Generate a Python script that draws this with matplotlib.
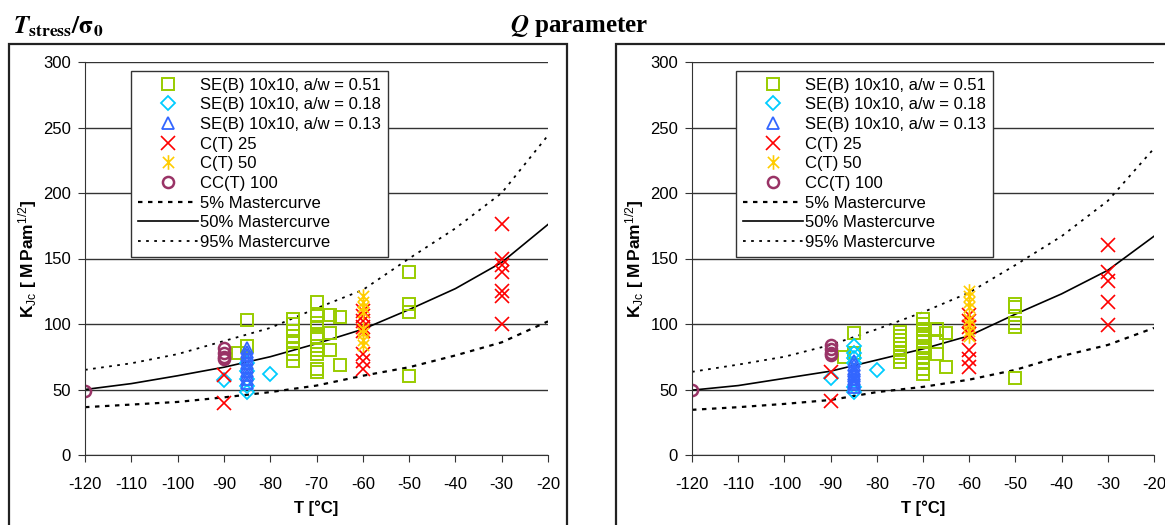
import numpy as np
import matplotlib
matplotlib.use('Agg')
import matplotlib.pyplot as plt
from matplotlib.path import Path
from matplotlib.patches import Rectangle

plt.rcParams['font.family'] = ['Liberation Sans', 'DejaVu Sans']
plt.rcParams['axes.unicode_minus'] = False
plt.rcParams['mathtext.fontset'] = 'custom'
plt.rcParams['mathtext.rm'] = 'Liberation Sans'
plt.rcParams['mathtext.bf'] = 'Liberation Sans:bold'
plt.rcParams['mathtext.it'] = 'Liberation Sans:italic'

# ---- mastercurves (every 10 C) ----
t_mc = [-120, -110, -100, -90, -80, -70, -60, -50, -40, -30, -20]

ts_mc05 = [36.5, 38.5, 40.5, 44, 48, 53, 60.5, 67, 76, 86, 102]
ts_mc50 = [50, 54.5, 60.5, 67, 75, 85, 96, 111, 127, 147, 176]
ts_mc95 = [65, 70, 77, 87, 97, 112, 126, 150, 173, 200, 244]

q_mc05 = [34.5, 36.5, 39, 42, 48, 52, 57.5, 65, 75.5, 84, 97]
q_mc50 = [49.5, 53, 58.5, 64, 72.5, 81, 91, 107.5, 123, 141, 167]
q_mc95 = [63.5, 69, 75, 84, 96, 109, 124, 145, 167, 194, 234]

# ---- T_stress/sigma0 panel ----
ts_seb51_t = [-87, -85, -85] + [-75] * 8 + [-70] * 11 + [-67] * 3 + [-65] * 2 + [-50] * 4
ts_seb51_k = [78, 103, 83,
              104, 100, 95, 91, 87, 81, 77, 72,
              117, 106, 101, 98, 92, 90, 83, 80, 77, 66, 63,
              107, 93, 80,
              105, 69,
              140, 115, 109, 60]
ts_seb18_t = [-90, -85, -85, -85, -85, -85, -80]
ts_seb18_k = [57, 48, 53, 58, 64, 70, 62]
ts_seb13_t = [-85] * 10
ts_seb13_k = [82, 79, 76, 73, 70, 67, 64, 61, 58, 55]
ts_ct25_t = [-90, -90] + [-60] * 8 + [-30] * 7
ts_ct25_k = [61, 40,
             110, 106, 102, 98, 95, 77, 72, 66,
             176, 150, 145, 140, 125, 121, 100]
ts_ct50_t = [-60] * 8
ts_ct50_k = [121, 117, 113, 109, 96, 93, 88, 84]
ts_cct100_t = [-120, -90, -90, -90, -90]
ts_cct100_k = [49, 82, 78, 75, 73]

# ---- Q parameter panel ----
q_seb51_t = [-87, -85, -85] + [-75] * 8 + [-70] * 12 + [-67] * 3 + [-65] * 2 + [-50] * 5
q_seb51_k = [75, 93, 78,
             94, 91, 88, 85, 82, 78, 75, 71,
             104, 100, 96, 92, 89, 86, 82, 78, 74, 70, 66, 62,
             96, 86, 77,
             93, 67,
             115, 113, 101, 98, 59]
q_seb18_t = [-90, -85, -85, -85, -85, -85, -85, -80]
q_seb18_k = [59, 83, 78, 74, 70, 52, 48, 65]
q_seb13_t = [-85] * 10
q_seb13_k = [72, 69, 66, 64, 62, 60, 58, 56, 54, 52]
q_ct25_t = [-90, -90] + [-60] * 7 + [-30] * 5
q_ct25_k = [63, 41,
            107, 102, 98, 92, 80, 73, 67,
            160, 140, 133, 117, 99]
q_ct50_t = [-60] * 8
q_ct50_k = [125, 121, 117, 113, 104, 100, 95, 91]
q_cct100_t = [-120, -90, -90, -90, -90]
q_cct100_k = [50, 84, 81, 78, 76]

labels = ['SE(B) 10x10, a/w = 0.51', 'SE(B) 10x10, a/w = 0.18', 'SE(B) 10x10, a/w = 0.13',
          'C(T) 25', 'C(T) 50', 'CC(T) 100',
          '5% Mastercurve', '50% Mastercurve', '95% Mastercurve']

# excel style asterisk: x with a vertical bar
asterisk = Path([(-1, -1), (1, 1), (-1, 1), (1, -1), (0, -1.3), (0, 1.3)],
                [Path.MOVETO, Path.LINETO, Path.MOVETO, Path.LINETO, Path.MOVETO, Path.LINETO])

W, H = 1165, 525
fig = plt.figure(figsize=(W / 100, H / 100), dpi=100)


def draw_panel(ax, series, mc05, mc50, mc95, leg_x):
    ax.set_axisbelow(True)
    ax.grid(axis='y', color='#333333', lw=1)
    h = []
    h += ax.plot(t_mc, mc05, color='black', lw=1.6, ls=(0, (2, 2.5)))
    h += ax.plot(t_mc, mc50, color='black', lw=1.2)
    h += ax.plot(t_mc, mc95, color='black', lw=1.3, ls=(0, (1.5, 3)))
    styles = [dict(marker='s', ms=8.5, mec='#99CC00', mew=1.4),
              dict(marker='D', ms=7, mec='#00CCFF', mew=1.3),
              dict(marker='^', ms=9, mec='#3366FF', mew=1.3),
              dict(marker='x', ms=9.5, mec='#FF0000', mew=1.2),
              dict(marker=asterisk, ms=10.5, mec='#FFCC00', mew=1.2),
              dict(marker='o', ms=8, mec='#993366', mew=1.8)]
    mh = []
    for (t, k), st in zip(series, styles):
        mh += ax.plot(t, k, ls='none', mfc='none', **st)
    handles = mh + h
    ax.set_xlim(-120, -20)
    ax.set_ylim(0, 300)
    ax.set_xticks(range(-120, -19, 10))
    ax.set_yticks(range(0, 301, 50))
    for s in ['top', 'right']:
        ax.spines[s].set_visible(False)
    ax.spines['left'].set_color('#333333')
    ax.spines['bottom'].set_color('#333333')
    ax.tick_params(axis='x', direction='out', length=5, labelsize=12, pad=11, color='#333333')
    ax.tick_params(axis='y', direction='out', length=5, labelsize=12, pad=5, color='#333333')
    ax.set_xlabel('T [°C]', fontsize=12, fontweight='bold')
    ax.set_ylabel(r'$\mathbf{K}_{\mathrm{Jc}}\mathbf{\ [\ M\,Pam}^{\mathrm{1/2}}\mathbf{]}$', fontsize=12.5)
    ax.xaxis.set_label_coords(0.5, -0.115)
    ax.yaxis.set_label_coords(-0.1, 0.5)
    leg = ax.legend(handles, labels, loc='upper left', bbox_to_anchor=(leg_x / W, 1 - 71 / H),
                    bbox_transform=fig.transFigure, borderaxespad=0, fontsize=12,
                    labelspacing=0.28, handlelength=3.6, handletextpad=0.15, borderpad=0.4,
                    fancybox=False, framealpha=1, edgecolor='#333333')
    leg.get_frame().set_linewidth(1)


ax1 = fig.add_axes([85 / W, 1 - 455 / H, 463 / W, 393 / H])
draw_panel(ax1, [(ts_seb51_t, ts_seb51_k), (ts_seb18_t, ts_seb18_k), (ts_seb13_t, ts_seb13_k),
                 (ts_ct25_t, ts_ct25_k), (ts_ct50_t, ts_ct50_k), (ts_cct100_t, ts_cct100_k)],
           ts_mc05, ts_mc50, ts_mc95, 131)

ax2 = fig.add_axes([692 / W, 1 - 455 / H, 462 / W, 393 / H])
draw_panel(ax2, [(q_seb51_t, q_seb51_k), (q_seb18_t, q_seb18_k), (q_seb13_t, q_seb13_k),
                 (q_ct25_t, q_ct25_k), (q_ct50_t, q_ct50_k), (q_cct100_t, q_cct100_k)],
           q_mc05, q_mc50, q_mc95, 736)

# chart frames
fig.patches.append(Rectangle((9 / W, -0.05), 558 / W, 1.05 - 44 / H, transform=fig.transFigure,
                             fill=False, ec='#222222', lw=1.6))
fig.patches.append(Rectangle((616 / W, -0.05), 0.5, 1.05 - 44 / H, transform=fig.transFigure,
                             fill=False, ec='#222222', lw=1.6))

# panel titles
fig.text(13 / W, 1 - 27 / H, r'$\mathbfit{T}_{\mathbf{stress}}\mathbf{/\sigma}_{\mathbf{0}}$',
         fontsize=18, va='center', ha='left', math_fontfamily='stix')
fig.text(579 / W, 1 - 26 / H, r'$\mathbfit{Q}$ parameter', fontsize=18, va='center', ha='center',
         fontfamily='Liberation Serif', fontweight='bold', math_fontfamily='stix')

plt.savefig('out.png', dpi=100)
